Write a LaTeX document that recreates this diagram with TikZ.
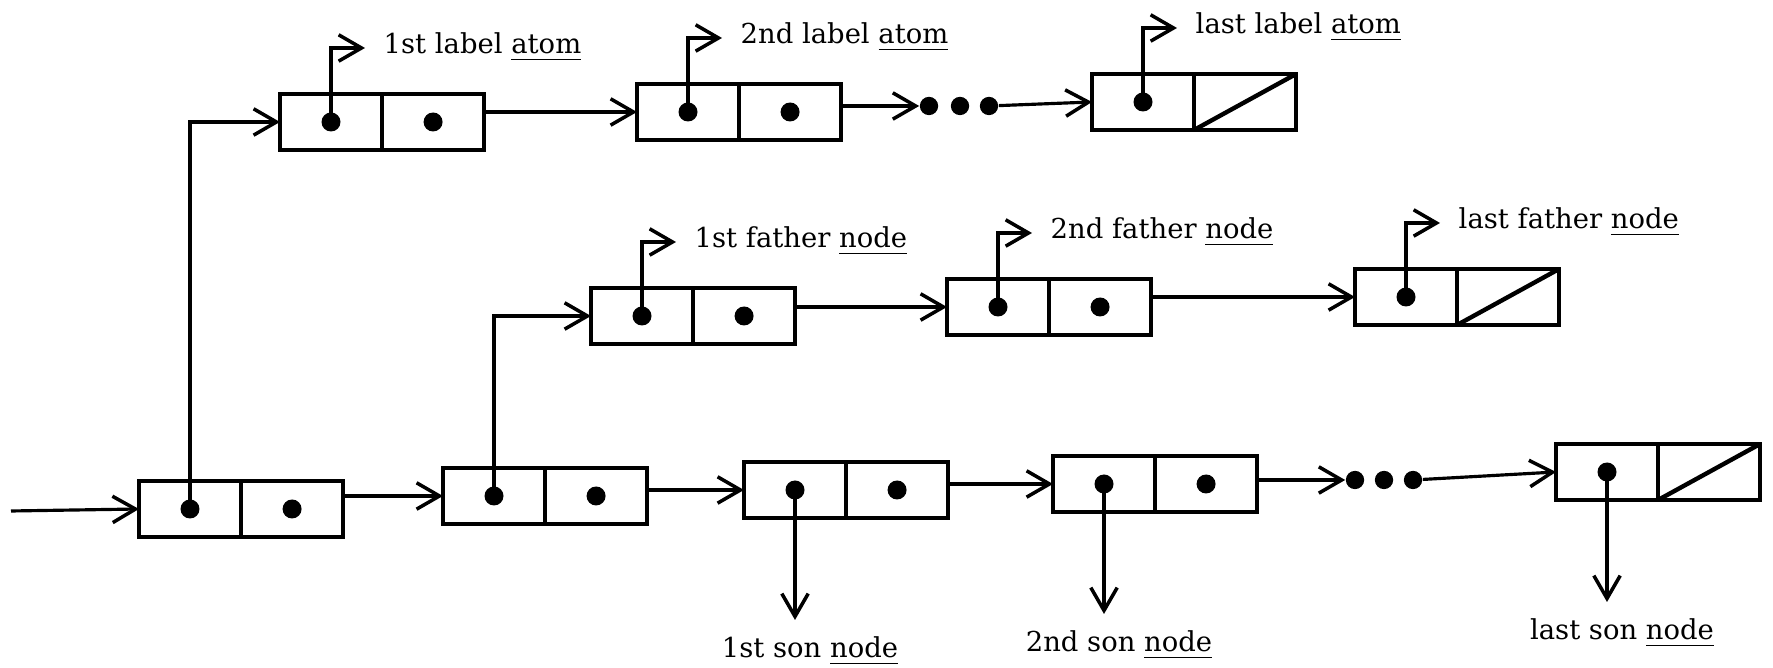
\documentclass[tikz,border=0pt]{standalone}
\usepackage{fontspec}
\setmainfont{DejaVu Serif}
\usetikzlibrary{arrows.meta}

\tikzset{
  half/.style={draw, line width=1.25pt, minimum width=1.02cm, minimum height=0.56cm, inner sep=0pt, outer sep=0pt},
  ptr/.style={line width=0.9pt, -{Straight Barb[length=6.5pt,width=7.5pt,line width=1pt]}},
  blob/.style={circle, fill, inner sep=0pt, minimum size=5.2pt},
  lbl/.style={inner sep=0pt, font=\fontsize{7.8}{9}\selectfont}
}

\begin{document}
\begin{tikzpicture}[x=0.01cm, y=-0.01cm]
\useasboundingbox (0,0) rectangle (1773,668);

% list cells: name / left edge / middle
\foreach \n/\x/\y in {a1/280/122, a2/637/112, a3/1092/102,
                      b1/591/316, b2/947/307, b3/1355/297,
                      c1/139/509, c2/443/496, c3/744/490, c4/1053/484, c5/1556/472}
{
  \node[half] (\n l) at (\x+51,\y) {};
  \node[half, anchor=west] (\n r) at (\n l.east) {};
  \fill (\n l) circle [radius=2.7pt];
}
\foreach \n in {a1,a2,b1,b2,c1,c2,c3,c4}
  \fill (\n r) circle [radius=2.7pt];
% nil in the last cell
\foreach \n in {a3,b3,c5}
  \draw[line width=1.25pt] (\n r.south west) -- (\n r.north east);

% the dots between cells
\node[blob] (ad1) at (929,106) {};
\node[blob] (ad2) at (960,106) {};
\node[blob] (ad3) at (989,106) {};
\node[blob] (cd1) at (1355,480) {};
\node[blob] (cd2) at (1384,480) {};
\node[blob] (cd3) at (1413,480) {};

% car pointers going up
\foreach \n/\pre/\obj in {a1/1st label/atom, a2/2nd label/atom, a3/last label/atom,
                          b1/1st father/node, b2/2nd father/node, b3/last father/node}
{
  \draw[ptr] (\n l.center) -- ++(0,-74) -- ++(34,0) coordinate (\n t);
  \node[lbl, anchor=base west] (\n lab) at ([shift={(18,6)}]\n t) {\pre\ \underline{\obj}};
}
% car pointers going down
\foreach \n/\pre in {c3/1st son, c4/2nd son, c5/last son}
{
  \draw[ptr] (\n l.center) -- ++(0,130) coordinate (\n t);
  \node[lbl, anchor=base] (\n lab) at ([shift={(15,38)}]\n t) {\pre\ \underline{node}};
}

\coordinate (in) at (11,511);
\draw[ptr] (in) -- (c1l.west);
\draw[ptr] (c1l.center) |- (a1l.west);
\draw[ptr] (c2l.center) |- (b1l.west);

\draw[ptr] (a1r.east |- a2l.west) -- (a2l.west);
\draw[ptr] (a2r.east |- ad1) -- (ad1);
\draw[ptr] (ad3) -- (a3l.west);
\draw[ptr] (b1r.east |- b2l.west) -- (b2l.west);
\draw[ptr] (b2r.east |- b3l.west) -- (b3l.west);
\draw[ptr] (c1r.east |- c2l.west) -- (c2l.west);
\draw[ptr] (c2r.east |- c3l.west) -- (c3l.west);
\draw[ptr] (c3r.east |- c4l.west) -- (c4l.west);
\draw[ptr] (c4r.east |- cd1) -- (cd1);
\draw[ptr] (cd3) -- (c5l.west);
\end{tikzpicture}
\end{document}
